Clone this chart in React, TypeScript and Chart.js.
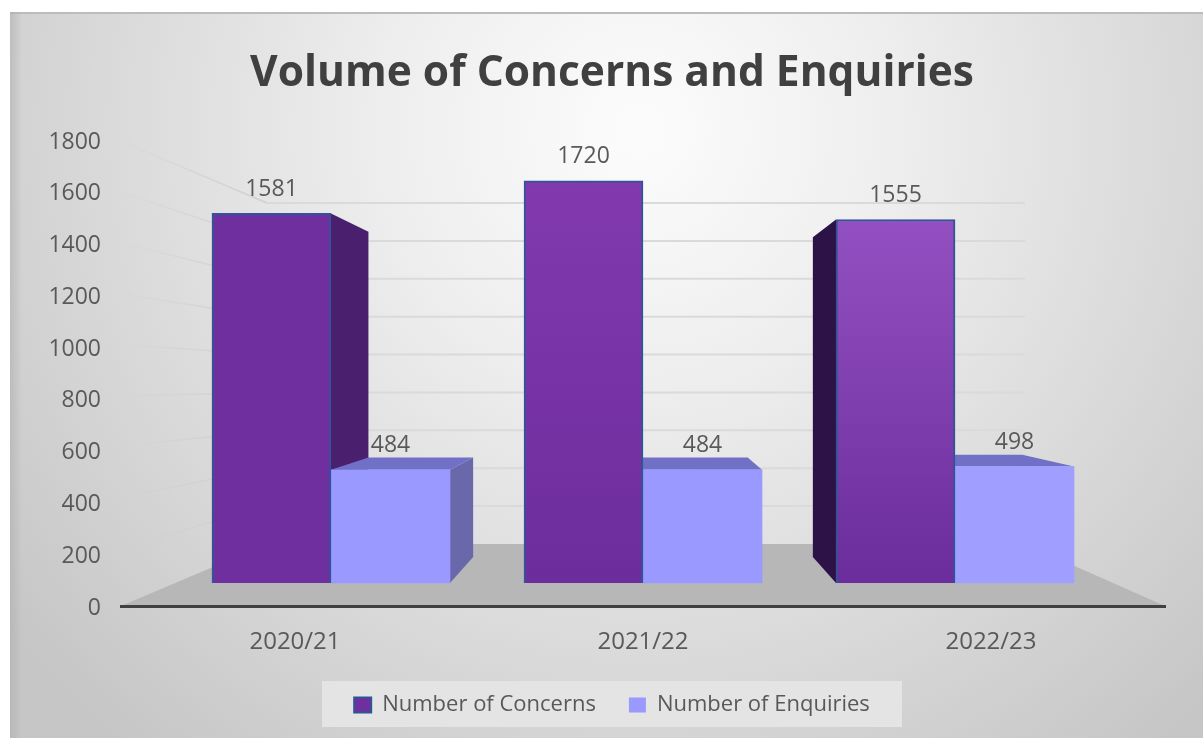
import React, { useEffect, useRef } from "react";
import { Chart, registerables } from "chart.js";

Chart.register(...registerables);

const categories = ["2020/21", "2021/22", "2022/23"];
const concerns = [1581, 1720, 1555];
const enquiries = [484, 484, 498];
const yTicks = [0, 200, 400, 600, 800, 1000, 1200, 1400, 1600, 1800];

const FONT = '"Open Sans", "Noto Sans", sans-serif';
const TEXT = "#595959";

// Perspective of the fake 3D box
const VP_X = 643;
const VP_Y = 367;
const DEPTH = 0.12;
const WALL_LEFT = 267;
const WALL_RIGHT = 1025;
const WALL_BOTTOM = 544;
const WALL_TOP = 203;

const back = (x: number, y: number) => [x + DEPTH * (VP_X - x), y + DEPTH * (VP_Y - y)];

function poly(ctx: CanvasRenderingContext2D, pts: number[][], fill: string) {
  ctx.beginPath();
  pts.forEach((p, i) => (i ? ctx.lineTo(p[0], p[1]) : ctx.moveTo(p[0], p[1])));
  ctx.closePath();
  ctx.fillStyle = fill;
  ctx.fill();
}

const scenePlugin = {
  id: "scene",
  beforeDraw(chart: any) {
    const { ctx, chartArea: a } = chart;
    ctx.save();
    ctx.fillStyle = "#ffffff";
    ctx.fillRect(0, 0, chart.width, chart.height);
    const g = ctx.createRadialGradient(640, 130, 20, 640, 130, 800);
    g.addColorStop(0, "#fbfbfb");
    g.addColorStop(0.3, "#eeeeee");
    g.addColorStop(0.65, "#dadada");
    g.addColorStop(1, "#c6c6c6");
    ctx.fillStyle = g;
    ctx.fillRect(10, 12, chart.width - 10, chart.height - 12);
    ctx.fillStyle = "#bcbcbc";
    ctx.fillRect(10, 12, chart.width - 10, 2);
    const edge = ctx.createLinearGradient(10, 0, 22, 0);
    edge.addColorStop(0, "rgba(170,170,170,0.5)");
    edge.addColorStop(1, "rgba(170,170,170,0)");
    ctx.fillStyle = edge;
    ctx.fillRect(10, 12, 12, chart.height - 12);

    // side-wall and back-wall gridlines
    const y = chart.scales.y;
    yTicks.forEach((v) => {
      if (v === 0) return;
      const fy = y.getPixelForValue(v);
      const by = WALL_BOTTOM - ((a.bottom - fy) * (WALL_BOTTOM - WALL_TOP)) / (a.bottom - a.top);
      const lg = ctx.createLinearGradient(a.left - 10, 0, WALL_LEFT, 0);
      lg.addColorStop(0, "rgba(205,205,205,0)");
      lg.addColorStop(1, "rgba(205,205,205,0.9)");
      ctx.strokeStyle = lg;
      ctx.lineWidth = 1.5;
      ctx.beginPath();
      ctx.moveTo(a.left - 10, fy - 3);
      ctx.lineTo(WALL_LEFT, by);
      ctx.stroke();
      ctx.strokeStyle = "#dadada";
      ctx.lineWidth = 2;
      ctx.beginPath();
      ctx.moveTo(WALL_LEFT, by);
      ctx.lineTo(WALL_RIGHT, by);
      ctx.stroke();
    });

    // floor
    poly(
      ctx,
      [
        [a.left, a.bottom],
        [WALL_LEFT, WALL_BOTTOM],
        [WALL_RIGHT, WALL_BOTTOM],
        [a.right, a.bottom],
      ],
      "#b7b7b7"
    );

    // legend panel
    ctx.fillStyle = "#e4e4e4";
    ctx.fillRect(322, 681, 580, 46);
    ctx.restore();
  },
  beforeDatasetsDraw(chart: any) {
    const { ctx } = chart;
    ctx.save();
    const sideColors = [
      ["#4a1f6e", "#3a1860", "#2d1248"],
      ["#6868aa", "#6868aa", "#6868aa"],
    ];
    const topColors = ["#7a3aa8", "#7070c6"];
    [0, 1].forEach((ds) => {
      chart.getDatasetMeta(ds).data.forEach((bar: any, i: number) => {
        const p = bar.getProps(["x", "y", "base", "width"], true);
        const l = p.x - p.width / 2;
        const r = p.x + p.width / 2;
        const t = p.y;
        const b = p.base;
        const edge = r < VP_X - 2 ? r : l > VP_X + 2 ? l : null;
        if (edge !== null) {
          poly(ctx, [[edge, t], back(edge, t), back(edge, b), [edge, b]], sideColors[ds][i]);
        }
        if (t > VP_Y) {
          poly(ctx, [[l, t], back(l, t), back(r, t), [r, t]], topColors[ds]);
        }
      });
    });
    ctx.restore();
  },
  afterDatasetsDraw(chart: any) {
    const { ctx } = chart;
    ctx.save();
    ctx.font = `23px ${FONT}`;
    ctx.fillStyle = TEXT;
    ctx.textAlign = "center";
    ctx.textBaseline = "middle";
    [0, 1].forEach((ds) => {
      chart.getDatasetMeta(ds).data.forEach((bar: any, i: number) => {
        const v = chart.data.datasets[ds].data[i].y;
        ctx.fillText(String(v), bar.x, bar.y - 24);
      });
    });
    ctx.restore();
  },
};

function purple(c: any) {
  const i = c.dataIndex;
  if (i === undefined) return "#7030a0";
  const cx = c.chart.ctx;
  if (i === 0) return "#6f2f9f";
  const g = cx.createLinearGradient(0, 181, 0, 583);
  if (i === 1) {
    g.addColorStop(0, "#8239ae");
    g.addColorStop(1, "#6c2d9c");
  } else {
    g.addColorStop(0, "#9753c5");
    g.addColorStop(1, "#6b2d9b");
  }
  return g;
}

function lilac(c: any) {
  return c.dataIndex === 2 ? "#a09fff" : "#9999ff";
}

export default function App() {
  const ref = useRef<HTMLCanvasElement | null>(null);
  useEffect(() => {
    if (!ref.current) return;
    const chart = new Chart(ref.current, {
      type: "bar",
      data: {
        datasets: [
          {
            label: "Number of Concerns",
            data: concerns.map((v, i) => ({ x: i, y: v })),
            backgroundColor: purple,
            borderColor: "#2f5597",
            borderWidth: 2,
            xAxisID: "xb",
            yAxisID: "yb",
            barThickness: 119,
          },
          {
            label: "Number of Enquiries",
            data: enquiries.map((v, i) => ({ x: i, y: v })),
            backgroundColor: lilac,
            borderWidth: 0,
            xAxisID: "xb",
            yAxisID: "yb",
            barThickness: 119,
          },
        ],
      } as any,
      options: {
        responsive: false,
        animation: false,
        devicePixelRatio: 1,
        layout: { padding: { left: 30, right: 9, top: 0, bottom: 12 } },
        scales: {
          x: {
            type: "category",
            labels: categories,
            offset: true,
            position: "bottom",
            grid: { display: false, drawTicks: false },
            border: { display: true, color: "#404040", width: 3 },
            ticks: { color: TEXT, font: { family: FONT, size: 24 }, padding: 22 },
            afterFit: (s: any) => {
              s.height = 55;
            },
          },
          xb: { type: "linear", display: false, min: -0.673, max: 2.673, offset: false },
          y: {
            type: "linear",
            position: "left",
            min: 0,
            max: 1800,
            afterBuildTicks: (s: any) => {
              s.ticks = yTicks.map((value) => ({ value }));
            },
            grid: { display: false, drawTicks: false },
            border: { display: false },
            ticks: {
              color: TEXT,
              font: { family: FONT, size: 23 },
              padding: 20,
              labelOffset: 2,
              callback: (v: any) => String(v),
            },
            afterFit: (s: any) => {
              s.width = 91;
            },
          },
          yr: {
            type: "linear",
            position: "right",
            display: true,
            grid: { display: false, drawTicks: false },
            border: { display: false },
            ticks: { display: false },
            afterFit: (s: any) => {
              s.width = 29;
            },
          },
          yb: { type: "linear", display: false, min: -98.4, max: 1895.2 },
        },
        plugins: {
          title: {
            display: true,
            text: "Volume of Concerns and Enquiries",
            color: "#404040",
            font: { family: FONT, size: 42.5, weight: "bold" },
            padding: { top: 48, bottom: 41 },
          },
          legend: {
            position: "bottom",
            labels: {
              color: TEXT,
              boxWidth: 17,
              boxHeight: 15,
              padding: 33,
              font: { family: FONT, size: 22 },
            },
          },
          tooltip: { enabled: false },
        },
      } as any,
      plugins: [scenePlugin],
    });
    return () => chart.destroy();
  }, []);
  return (
    <div style={{ position: "fixed", left: 0, top: 0, width: 1203, height: 738, background: "#fff" }}>
      <canvas ref={ref} width={1203} height={738} style={{ display: "block", filter: "blur(0.5px)" }} />
    </div>
  );
}
